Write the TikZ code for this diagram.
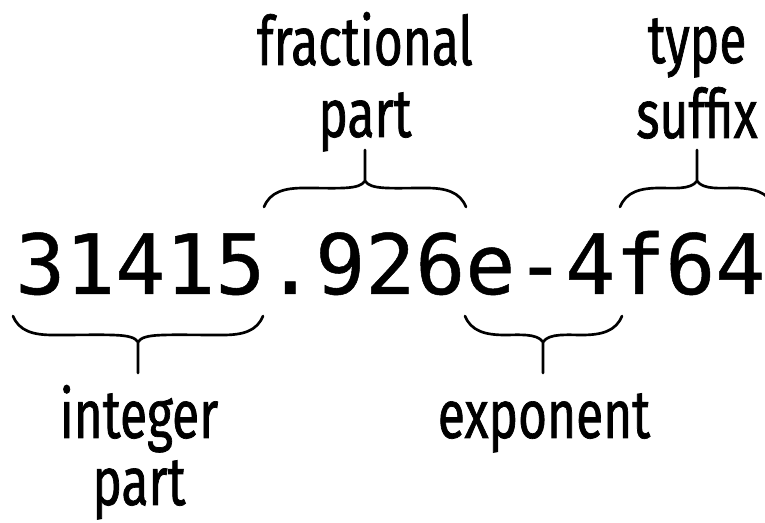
\documentclass[tikz,border=0pt]{standalone}
\usepackage{fontspec}
\newfontfamily\lblfont[FakeStretch=0.73,FakeBold=1]{Fira Sans}
\newfontfamily\numfont[FakeBold=0.6]{DejaVu Sans Mono}
\tikzset{
  lbl/.style={font=\lblfont\fontsize{51}{60}\selectfont, inner sep=0pt, anchor=base},
  brc/.style={line width=2pt, line cap=round}
}
\begin{document}
\begin{tikzpicture}[x=0.75pt,y=-0.75pt]
\useasboundingbox (0,0) rectangle (765,523);
\clip (0,0) rectangle (765,523);

% the literal
\node (num) [inner sep=0pt, anchor=base west, font=\numfont\fontsize{62.3}{70}\selectfont] at (15,294) {31415.926e-4f64};

% fractional part
\draw[brc] (264,207) .. controls (270,192) and (284,188) .. (304,188) .. controls (340,188) and (359,190) .. (365,181) -- (365,150);
\draw[brc] (365,181) .. controls (371,190) and (390,188) .. (426,188) .. controls (446,188) and (460,192) .. (466,207);
\node (fracA) [lbl] at (365,65) {fractional};
\node (fracB) [lbl] at (365,137) {part};

% type suffix
\draw[brc] (620,207) .. controls (626,192) and (640,188) .. (660,188) .. controls (672,188) and (691,190) .. (697,181) -- (697,150);
\draw[brc] (697,181) .. controls (703,190) and (722,188) .. (734,188) .. controls (754,188) and (768,192) .. (774,207);
\node (typeA) [lbl] at (697,63) {type};
\node (typeB) [lbl] at (697,138) {suffix};

% integer part
\draw[brc] (13,316) .. controls (19,331) and (33,335) .. (53,335) .. controls (113,335) and (132,333) .. (138,342) -- (138,373);
\draw[brc] (138,342) .. controls (144,333) and (163,335) .. (223,335) .. controls (243,335) and (257,331) .. (263,316);
\node (intA) [lbl] at (139,438) {integer};
\node (intB) [lbl] at (139,505) {part};

% exponent
\draw[brc] (465,316) .. controls (471,331) and (485,335) .. (505,335) .. controls (518,335) and (537,333) .. (543,342) -- (543,373);
\draw[brc] (543,342) .. controls (549,333) and (568,335) .. (582,335) .. controls (602,335) and (616,331) .. (622,316);
\node (expo) [lbl] at (544,438) {exponent};
\end{tikzpicture}
\end{document}
